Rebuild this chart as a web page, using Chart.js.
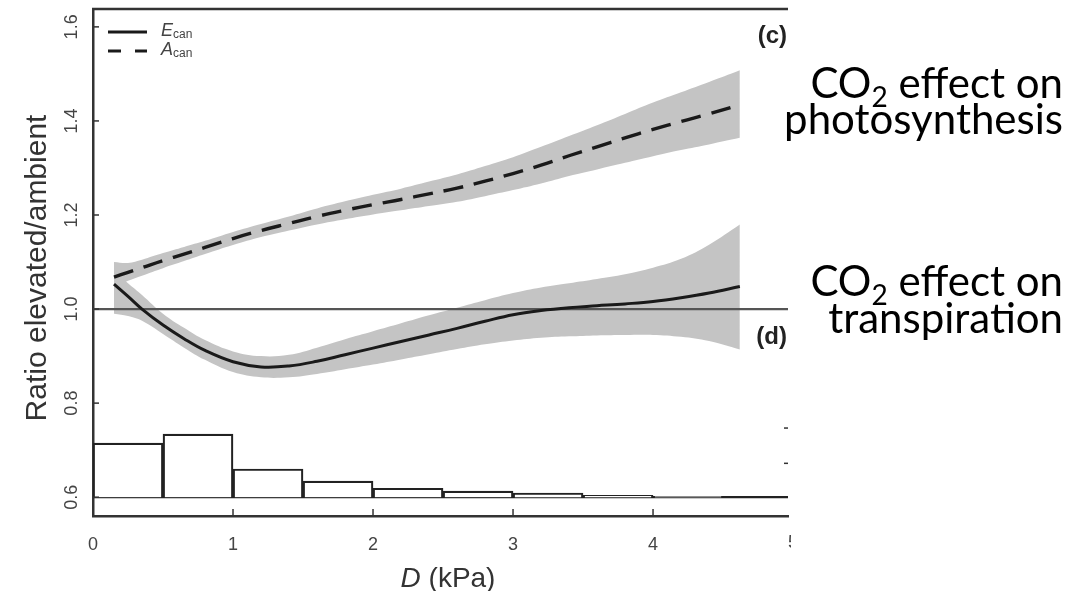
<!DOCTYPE html>
<html>
<head>
<meta charset="utf-8">
<script src="https://cdn.jsdelivr.net/npm/chart.js@4.4.0/dist/chart.umd.min.js"></script>
<style>
  html, body { margin: 0; padding: 0; background: #fff; }
  #wrap { width: 1077px; height: 591px; }
</style>
</head>
<body>
<div id="wrap"><canvas id="myChart"></canvas></div>
<script>
// vapour pressure deficit D (kPa) where the fitted curves were read
var dValues = [0.15, 0.25, 0.35, 0.5, 0.65, 0.8, 1.0, 1.2, 1.4, 1.6, 1.8, 2.0, 2.2,
               2.4, 2.6, 2.8, 3.0, 3.2, 3.4, 3.6, 3.8, 4.0, 4.2, 4.4, 4.62];

// E_can ratio (transpiration) and its confidence band
var eCan     = [1.053, 1.027, 1.0, 0.966, 0.937, 0.912, 0.888, 0.877, 0.879, 0.889, 0.903, 0.917, 0.931,
                0.945, 0.959, 0.974, 0.988, 0.997, 1.003, 1.007, 1.011, 1.016, 1.024, 1.034, 1.048];
var eCanLow  = [0.990, 0.985, 0.975, 0.947, 0.918, 0.892, 0.866, 0.855, 0.855, 0.862, 0.872, 0.882, 0.893,
                0.904, 0.915, 0.925, 0.933, 0.939, 0.942, 0.944, 0.945, 0.945, 0.941, 0.932, 0.914];
var eCanHigh = [1.080, 1.055, 1.030, 0.990, 0.960, 0.934, 0.910, 0.900, 0.903, 0.918, 0.936, 0.953, 0.970,
                0.987, 1.003, 1.019, 1.034, 1.046, 1.055, 1.064, 1.074, 1.088, 1.107, 1.137, 1.180];

// A_can ratio (photosynthesis) and its confidence band
var aCan     = [1.068, 1.078, 1.088, 1.103, 1.117, 1.131, 1.150, 1.167, 1.182, 1.197, 1.210, 1.222, 1.233,
                1.245, 1.257, 1.272, 1.288, 1.306, 1.326, 1.345, 1.364, 1.382, 1.399, 1.415, 1.434];
var aCanLow  = [1.045, 1.060, 1.071, 1.087, 1.102, 1.117, 1.136, 1.153, 1.167, 1.180, 1.191, 1.201, 1.210,
                1.219, 1.228, 1.240, 1.253, 1.267, 1.283, 1.297, 1.311, 1.325, 1.338, 1.350, 1.364];
var aCanHigh = [1.100, 1.098, 1.105, 1.119, 1.132, 1.145, 1.164, 1.181, 1.197, 1.214, 1.229, 1.243, 1.256,
                1.271, 1.286, 1.304, 1.323, 1.345, 1.368, 1.391, 1.415, 1.439, 1.461, 1.483, 1.508];

// frequency histogram of D, drawn on the ratio axis above a 0.6 baseline
var histCenters = [0.25, 0.75, 1.25, 1.75, 2.25, 2.75, 3.25, 3.75, 4.25];
var histTops    = [0.715, 0.734, 0.660, 0.634, 0.619, 0.613, 0.6085, 0.604, 0.602];
var histBase = 0.6;
var histAxisTicks = [0.747, 0.672];

var refLevel = 1.0;
var xTicks = [0, 1, 2, 3, 4, 5];
var yTicks = [0.6, 0.8, 1.0, 1.2, 1.4, 1.6];
var xMin = 0, xMax = 4.964, yMin = 0.56, yMax = 1.638;

function pts(ys) {
  return dValues.map(function (x, i) { return { x: x, y: ys[i] }; });
}

var band = '#c4c4c4';
var ink = '#1a1a1a';

var annotate = {
  id: 'annotate',
  afterDraw: function (chart) {
    var ctx = chart.ctx, a = chart.chartArea;
    var xs = chart.scales.x, ys = chart.scales.y;
    function line(x1, y1, x2, y2) { ctx.beginPath(); ctx.moveTo(x1, y1); ctx.lineTo(x2, y2); ctx.stroke(); }
    ctx.save();

    // top frame
    ctx.strokeStyle = '#333';
    ctx.lineWidth = 2.5;
    line(a.left - 1, a.top, a.right, a.top);

    // inward tick marks
    ctx.lineWidth = 1.5;
    xTicks.forEach(function (v) {
      if (v <= xMin || v >= xMax) return;
      var px = xs.getPixelForValue(v);
      line(px, a.bottom, px, a.bottom - 7);
    });
    yTicks.forEach(function (v) {
      var py = ys.getPixelForValue(v);
      line(a.left, py, a.left + 6, py);
    });
    histAxisTicks.forEach(function (v) {
      var py = ys.getPixelForValue(v);
      line(a.right - 4, py, a.right, py);
    });

    // y tick labels, rotated
    ctx.fillStyle = '#444';
    ctx.font = '18px "Liberation Sans"';
    ctx.textAlign = 'center';
    ctx.textBaseline = 'middle';
    yTicks.forEach(function (v) {
      ctx.save();
      ctx.translate(a.left - 21, ys.getPixelForValue(v));
      ctx.rotate(-Math.PI / 2);
      ctx.fillText(v.toFixed(1), 0, 0);
      ctx.restore();
    });

    // clipped "5" at the right edge
    ctx.save();
    ctx.beginPath(); ctx.rect(0, 0, a.right + 3, 591); ctx.clip();
    ctx.textBaseline = 'top';
    ctx.fillText('5', xs.getPixelForValue(5), a.bottom + 18);
    ctx.restore();

    // axis titles
    ctx.fillStyle = '#333';
    ctx.save();
    ctx.translate(38, 268);
    ctx.rotate(-Math.PI / 2);
    ctx.font = '30px "Liberation Sans"';
    ctx.textAlign = 'center';
    ctx.textBaseline = 'middle';
    ctx.fillText('Ratio elevated/ambient', 0, 0);
    ctx.restore();

    ctx.textBaseline = 'alphabetic';
    ctx.textAlign = 'left';
    ctx.font = 'italic 28px "Liberation Sans"';
    var wD = ctx.measureText('D').width;
    ctx.font = '28px "Liberation Sans"';
    var wK = ctx.measureText(' (kPa)').width;
    var x0 = 448 - (wD + wK) / 2;
    ctx.font = 'italic 28px "Liberation Sans"';
    ctx.fillText('D', x0, 587);
    ctx.font = '28px "Liberation Sans"';
    ctx.fillText(' (kPa)', x0 + wD, 587);

    // legend
    ctx.strokeStyle = ink;
    ctx.lineWidth = 3;
    line(108, 32, 147, 32);
    line(108, 51, 121, 51);
    line(135, 51, 147, 51);
    ctx.fillStyle = '#444';
    function sub(main, s, x, y) {
      ctx.font = 'italic 18px "Liberation Sans"';
      ctx.fillText(main, x, y);
      var w = ctx.measureText(main).width;
      ctx.font = '12px "Liberation Sans"';
      ctx.fillText(s, x + w, y + 4);
    }
    ctx.textBaseline = 'middle';
    sub('E', 'can', 161, 31);
    sub('A', 'can', 161, 50);

    // panel letters
    ctx.fillStyle = '#222';
    ctx.font = 'bold 24px "Liberation Sans"';
    ctx.textAlign = 'right';
    ctx.fillText('(c)', 787, 36);
    ctx.fillText('(d)', 787, 337);

    // right-hand annotations
    function co2(xRight, yBase) {
      ctx.textBaseline = 'alphabetic';
      ctx.textAlign = 'left';
      ctx.font = '42px Lato';
      var w1 = ctx.measureText('CO').width;
      var w3 = ctx.measureText(' effect on').width;
      ctx.font = '28px Lato';
      var w2 = ctx.measureText('2').width;
      var x = xRight - (w1 + w2 + w3);
      ctx.font = '42px Lato';
      ctx.fillText('CO', x, yBase);
      ctx.font = '28px Lato';
      ctx.fillText('2', x + w1, yBase + 9);
      ctx.font = '42px Lato';
      ctx.fillText(' effect on', x + w1 + w2, yBase);
    }
    ctx.fillStyle = '#000';
    co2(1063, 98);
    ctx.textAlign = 'right';
    ctx.fillText('photosynthesis', 1063, 134);
    co2(1063, 296);
    ctx.textAlign = 'right';
    ctx.fillText('transpiration', 1063, 333);

    ctx.restore();
  }
};

var ctx = document.getElementById('myChart').getContext('2d');
var chart = new Chart(ctx, {
  type: 'line',
  data: {
    datasets: [
      { data: pts(eCanLow), borderWidth: 0, borderColor: 'transparent', pointRadius: 0, fill: false, tension: 0.4, order: 6 },
      { data: pts(eCanHigh), borderWidth: 0, borderColor: 'transparent', pointRadius: 0, fill: '-1', backgroundColor: band, tension: 0.4, order: 6 },
      { data: pts(aCanLow), borderWidth: 0, borderColor: 'transparent', pointRadius: 0, fill: false, tension: 0.4, order: 5 },
      { data: pts(aCanHigh), borderWidth: 0, borderColor: 'transparent', pointRadius: 0, fill: '-1', backgroundColor: band, tension: 0.4, order: 5 },
      { data: [{ x: xMin, y: refLevel }, { x: xMax, y: refLevel }], borderColor: '#555', borderWidth: 2.2, pointRadius: 0, order: 4 },
      { data: [{ x: xMin, y: histBase }, { x: xMax, y: histBase }], borderColor: '#222', borderWidth: 2.2, pointRadius: 0, order: 3 },
      {
        type: 'bar',
        data: histCenters.map(function (c, i) { return { x: c, y: [histBase, histTops[i]] }; }),
        backgroundColor: '#fff', borderColor: '#222', borderWidth: 2.2,
        barPercentage: 1, categoryPercentage: 1, grouped: false, order: 2
      },
      { label: 'Ecan', data: pts(eCan), borderColor: ink, borderWidth: 3, pointRadius: 0, tension: 0.4, order: 1 },
      { label: 'Acan', data: pts(aCan), borderColor: ink, borderWidth: 3.4, borderDash: [20, 11], pointRadius: 0, tension: 0.4, order: 0 }
    ]
  },
  options: {
    responsive: true,
    maintainAspectRatio: false,
    animation: false,
    layout: { padding: { top: 9, right: 289, bottom: 0, left: 0 } },
    plugins: { legend: { display: false }, tooltip: { enabled: false } },
    scales: {
      x: {
        type: 'linear', min: xMin, max: xMax, offset: false,
        grid: { display: false },
        border: { display: true, color: '#333', width: 2.5 },
        ticks: { color: '#444', font: { family: 'Liberation Sans', size: 18 }, padding: 10, maxRotation: 0 },
        afterBuildTicks: function (s) { s.ticks = xTicks.filter(function (v) { return v <= xMax; }).map(function (v) { return { value: v }; }); },
        afterFit: function (s) { s.height = 75; }
      },
      y: {
        type: 'linear', min: yMin, max: yMax,
        grid: { display: false },
        border: { display: true, color: '#333', width: 2.5 },
        ticks: { display: false },
        afterFit: function (s) { s.width = 93; }
      }
    }
  },
  plugins: [annotate]
});
</script>
</body>
</html>
